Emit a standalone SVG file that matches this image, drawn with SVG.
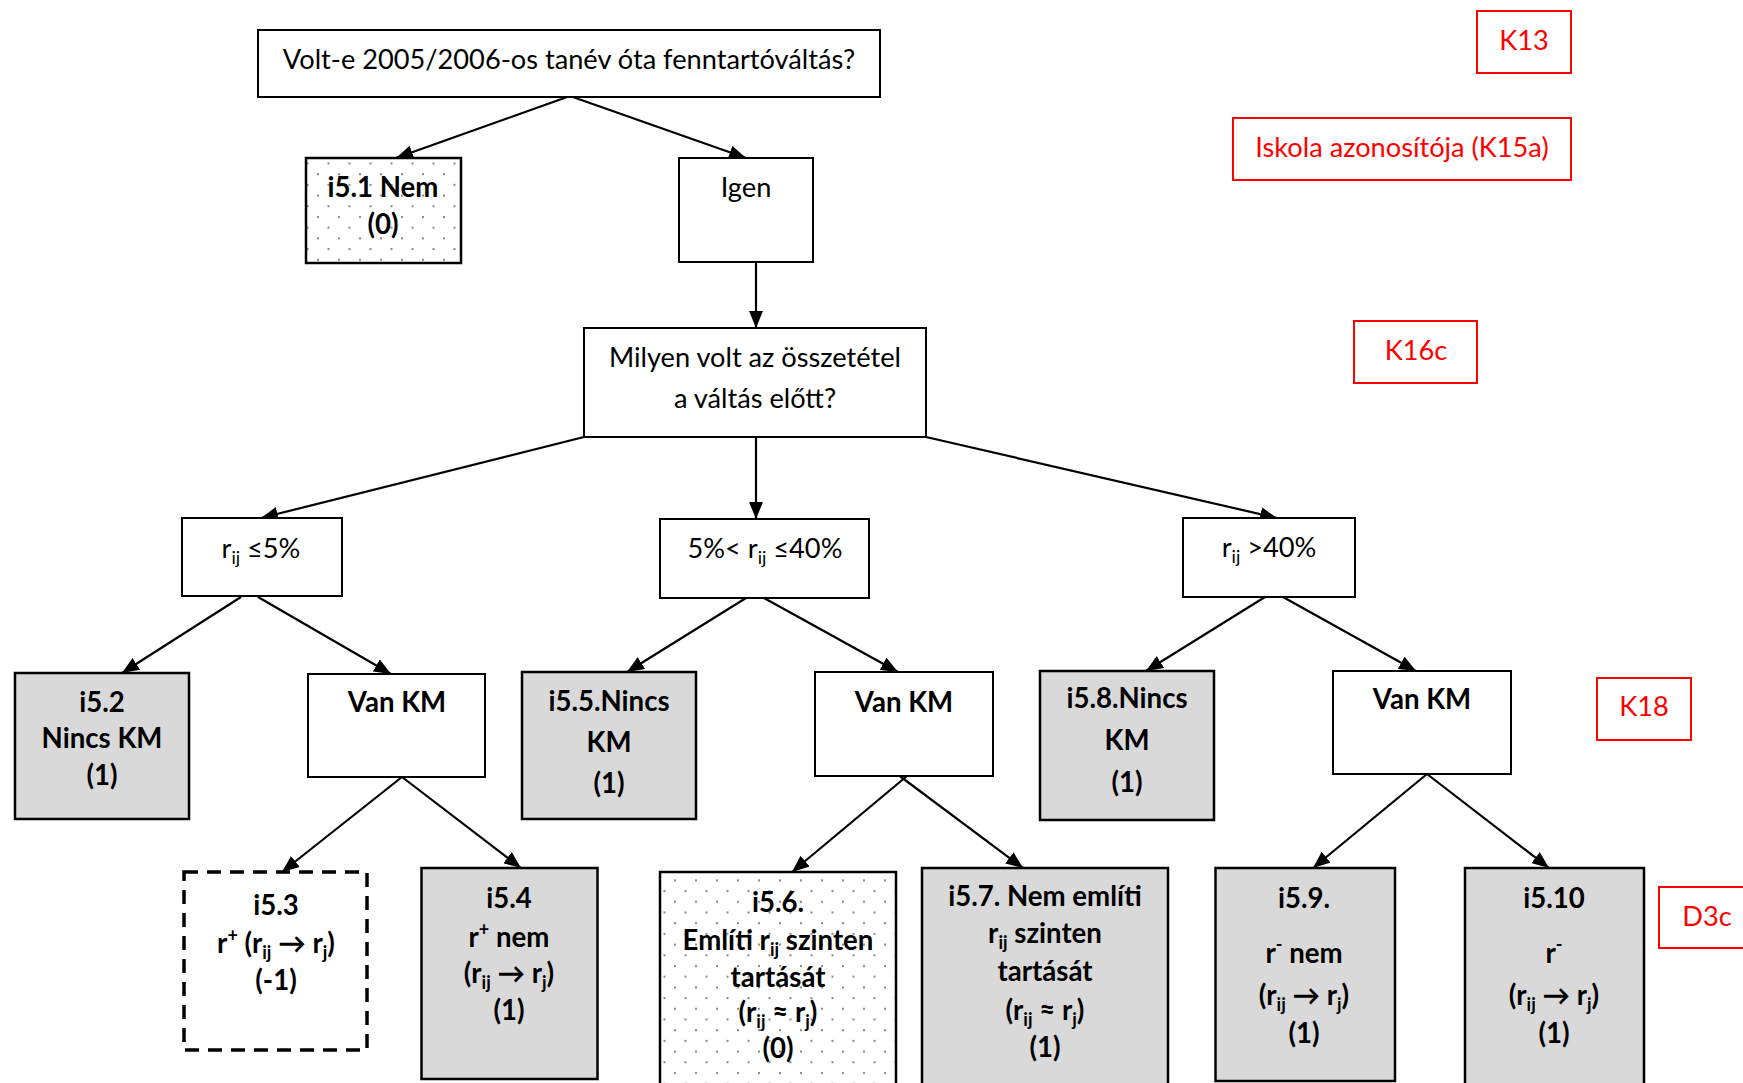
<svg xmlns="http://www.w3.org/2000/svg" width="1743" height="1083" viewBox="0 0 1743 1083">
<style>
.box{fill:#fff;stroke:#000;stroke-width:2}
.gray{fill:#d9d9d9;stroke:#000;stroke-width:2.5}
.dotted{fill:url(#dots);stroke:#000;stroke-width:2.5}
.dash{fill:#fff;stroke:#000;stroke-width:3.5;stroke-dasharray:14 9}
.red{fill:#fff;stroke:#ff0000;stroke-width:2}
.t{font-family:Lato,"Liberation Sans","DejaVu Sans",sans-serif;font-size:27.2px;text-anchor:middle;fill:#000}
.b{font-weight:bold;font-size:27.6px}
.rt{fill:#ff0000}
.sub{font-size:18px}
.conn line{stroke:#000;stroke-width:2.2;marker-end:url(#ah)}
</style>
<defs>
<marker id="ah" markerUnits="userSpaceOnUse" markerWidth="17" markerHeight="14" viewBox="0 0 17 14" refX="17" refY="7" orient="auto">
<path d="M0,0 L17,7 L0,14 z" fill="#000"/>
</marker>
<pattern id="dots" patternUnits="userSpaceOnUse" width="21" height="21.4">
<rect width="21" height="21.4" fill="#fff"/>
<rect x="2" y="2" width="2" height="2" fill="#888"/>
<rect x="12.5" y="12.7" width="2" height="2" fill="#888"/>
</pattern>
</defs>
<rect width="1743" height="1083" fill="#fff"/>

<g id="connectors" class="conn">
<line x1="570" y1="96" x2="396" y2="158"/>
<line x1="570" y1="96" x2="746" y2="158"/>
<line x1="756" y1="262" x2="756" y2="328"/>
<line x1="584" y1="437" x2="261" y2="518"/>
<line x1="756" y1="437" x2="756" y2="519"/>
<line x1="926" y1="437" x2="1277" y2="518"/>
<line x1="241" y1="597" x2="122" y2="673"/>
<line x1="258" y1="597" x2="391" y2="674"/>
<line x1="746" y1="598" x2="627" y2="672"/>
<line x1="764" y1="598" x2="898" y2="672"/>
<line x1="1265" y1="597" x2="1146" y2="671"/>
<line x1="1283" y1="597" x2="1416" y2="671"/>
<line x1="402" y1="777" x2="282" y2="872"/>
<line x1="402" y1="777" x2="521" y2="868"/>
<line x1="913" y1="771" x2="792" y2="872"/>
<line x1="893" y1="771" x2="1023" y2="868"/>
<line x1="1427" y1="774" x2="1313" y2="868"/>
<line x1="1427" y1="774" x2="1549" y2="868"/>
</g>

<g id="n_top"><rect class="box" x="258" y="30" width="622" height="67"/>
<text class="t" x="569" y="69">Volt-e 2005/2006-os tanév óta fenntartóváltás?</text></g>

<g id="n_i51"><rect class="dotted" x="306" y="158" width="155" height="105"/>
<text class="t b" x="383" y="197">i5.1 Nem</text>
<text class="t b" x="383" y="234">(0)</text></g>

<g id="n_igen"><rect class="box" x="679" y="158" width="134" height="104"/>
<text class="t" x="746" y="197">Igen</text></g>

<g id="n_milyen"><rect class="box" x="584" y="328" width="342" height="109"/>
<text class="t" x="755" y="367">Milyen volt az összetétel</text>
<text class="t" x="755" y="408">a váltás előtt?</text></g>

<g id="n_r5"><rect class="box" x="182" y="518" width="160" height="78"/>
<text class="t" x="261" y="558">r<tspan class="sub" dy="6">ij</tspan><tspan dy="-6"> ≤5%</tspan></text></g>

<g id="n_r540"><rect class="box" x="660" y="519" width="209" height="79"/>
<text class="t" x="765" y="558">5%&lt; r<tspan class="sub" dy="6">ij</tspan><tspan dy="-6"> ≤40%</tspan></text></g>

<g id="n_r40"><rect class="box" x="1183" y="518" width="172" height="79"/>
<text class="t" x="1269" y="557">r<tspan class="sub" dy="6">ij</tspan><tspan dy="-6"> &gt;40%</tspan></text></g>

<g id="n_i52"><rect class="gray" x="15" y="673" width="174" height="146"/>
<text class="t b" x="102" y="712">i5.2</text>
<text class="t b" x="102" y="748">Nincs KM</text>
<text class="t b" x="102" y="785">(1)</text></g>

<g id="n_vankm1"><rect class="box" x="308" y="674" width="177" height="103"/>
<text class="t b" x="397" y="712">Van KM</text></g>

<g id="n_i55"><rect class="gray" x="522" y="672" width="174" height="147"/>
<text class="t b" x="609" y="711">i5.5.Nincs</text>
<text class="t b" x="609" y="752">KM</text>
<text class="t b" x="609" y="793">(1)</text></g>

<g id="n_vankm2"><rect class="box" x="815" y="672" width="178" height="104"/>
<text class="t b" x="904" y="712">Van KM</text></g>

<g id="n_i58"><rect class="gray" x="1040" y="671" width="174" height="149"/>
<text class="t b" x="1127" y="708">i5.8.Nincs</text>
<text class="t b" x="1127" y="750">KM</text>
<text class="t b" x="1127" y="792">(1)</text></g>

<g id="n_vankm3"><rect class="box" x="1333" y="671" width="178" height="103"/>
<text class="t b" x="1422" y="709">Van KM</text></g>

<g id="n_i53"><rect class="dash" x="184" y="872" width="183" height="178"/>
<text class="t b" x="276" y="915">i5.3</text>
<text class="t b" x="276" y="953">r<tspan class="sub" dy="-11">+</tspan><tspan dy="11"> (r</tspan><tspan class="sub" dy="6">ij</tspan><tspan dy="-6"> → r</tspan><tspan class="sub" dy="6">j</tspan><tspan dy="-6">)</tspan></text>
<text class="t b" x="276" y="990">(-1)</text></g>

<g id="n_i54"><rect class="gray" x="421.5" y="868" width="176" height="211"/>
<text class="t b" x="509" y="908">i5.4</text>
<text class="t b" x="509" y="947">r<tspan class="sub" dy="-11">+</tspan><tspan dy="11"> nem</tspan></text>
<text class="t b" x="509" y="983">(r<tspan class="sub" dy="6">ij</tspan><tspan dy="-6"> → r</tspan><tspan class="sub" dy="6">j</tspan><tspan dy="-6">)</tspan></text>
<text class="t b" x="509" y="1020">(1)</text></g>

<g id="n_i56"><rect class="dotted" x="660" y="872" width="236" height="225"/>
<text class="t b" x="778" y="912">i5.6.</text>
<text class="t b" x="778" y="950">Említi r<tspan class="sub" dy="6">ij</tspan><tspan dy="-6"> szinten</tspan></text>
<text class="t b" x="778" y="987">tartását</text>
<text class="t b" x="778" y="1022">(r<tspan class="sub" dy="6">ij</tspan><tspan dy="-6"> ≈ r</tspan><tspan class="sub" dy="6">j</tspan><tspan dy="-6">)</tspan></text>
<text class="t b" x="778" y="1058">(0)</text></g>

<g id="n_i57"><rect class="gray" x="922" y="868" width="246" height="230"/>
<text class="t b" x="1045" y="906">i5.7. Nem említi</text>
<text class="t b" x="1045" y="943">r<tspan class="sub" dy="6">ij</tspan><tspan dy="-6"> szinten</tspan></text>
<text class="t b" x="1045" y="981">tartását</text>
<text class="t b" x="1045" y="1020">(r<tspan class="sub" dy="6">ij</tspan><tspan dy="-6"> ≈ r</tspan><tspan class="sub" dy="6">j</tspan><tspan dy="-6">)</tspan></text>
<text class="t b" x="1045" y="1057">(1)</text></g>

<g id="n_i59"><rect class="gray" x="1215.5" y="868" width="179.5" height="213"/>
<text class="t b" x="1304" y="908">i5.9.</text>
<text class="t b" x="1304" y="963">r<tspan class="sub" dy="-12">-</tspan><tspan dy="12"> nem</tspan></text>
<text class="t b" x="1304" y="1005">(r<tspan class="sub" dy="6">ij</tspan><tspan dy="-6"> → r</tspan><tspan class="sub" dy="6">j</tspan><tspan dy="-6">)</tspan></text>
<text class="t b" x="1304" y="1043">(1)</text></g>

<g id="n_i510"><rect class="gray" x="1465" y="868" width="179" height="230"/>
<text class="t b" x="1554" y="908">i5.10</text>
<text class="t b" x="1554" y="963">r<tspan class="sub" dy="-12">-</tspan></text>
<text class="t b" x="1554" y="1005">(r<tspan class="sub" dy="6">ij</tspan><tspan dy="-6"> → r</tspan><tspan class="sub" dy="6">j</tspan><tspan dy="-6">)</tspan></text>
<text class="t b" x="1554" y="1043">(1)</text></g>

<g id="lbl_k13"><rect class="red" x="1477" y="11" width="94" height="62"/>
<text class="t rt" x="1524" y="50">K13</text></g>
<g id="lbl_k15a"><rect class="red" x="1233" y="118" width="338" height="62"/>
<text class="t rt" x="1402" y="157">Iskola azonosítója (K15a)</text></g>
<g id="lbl_k16c"><rect class="red" x="1354" y="321" width="123" height="62"/>
<text class="t rt" x="1416" y="360">K16c</text></g>
<g id="lbl_k18"><rect class="red" x="1597" y="678" width="94" height="62"/>
<text class="t rt" x="1644" y="716">K18</text></g>
<g id="lbl_d3c"><rect class="red" x="1659" y="887" width="100" height="61"/>
<text class="t rt" x="1707" y="926">D3c</text></g>
</svg>
